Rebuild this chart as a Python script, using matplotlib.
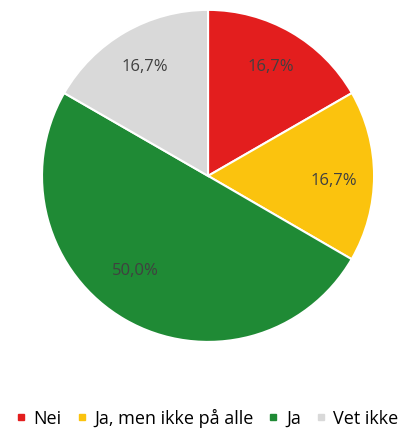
import matplotlib.pyplot as plt
from matplotlib.lines import Line2D

plt.rcParams['font.family'] = ['Open Sans', 'DejaVu Sans']

labels = ["Nei", "Ja, men ikke på alle", "Ja", "Vet ikke"]
values = [16.7, 16.7, 50.0, 16.7]
colors = ["#e31e1e", "#fbc30e", "#1f8a35", "#d9d9d9"]

fig = plt.figure(figsize=(4.06, 4.29), dpi=100)
ax = fig.add_axes([0.1034, 0.203, 0.818, 0.774])

wedges, texts, autotexts = ax.pie(
    values, colors=colors, startangle=90, counterclock=False,
    autopct=lambda p: f"{p:.1f}%".replace(".", ","), pctdistance=0.76,
    wedgeprops=dict(edgecolor="white", linewidth=1.5),
    textprops=dict(color="#404040", fontsize=12))
# nudge the big slice's label in toward the centre
autotexts[2].set_position((-0.44, -0.57))
autotexts[1].set_position((0.76, -0.03))
ax.set_xlim(-1.0, 1.0)
ax.set_ylim(-1.0, 1.0)
ax.set_aspect("equal")

handles = [Line2D([], [], marker="s", linestyle="", markersize=5,
                  markerfacecolor=c, markeredgecolor=c) for c in colors]
fig.legend(handles, labels, loc="center", bbox_to_anchor=(0.51, 0.025),
           ncol=4, frameon=False, fontsize=13, handlelength=0.6,
           handletextpad=0.4, columnspacing=0.8)

fig.savefig("out.png", dpi=100)
